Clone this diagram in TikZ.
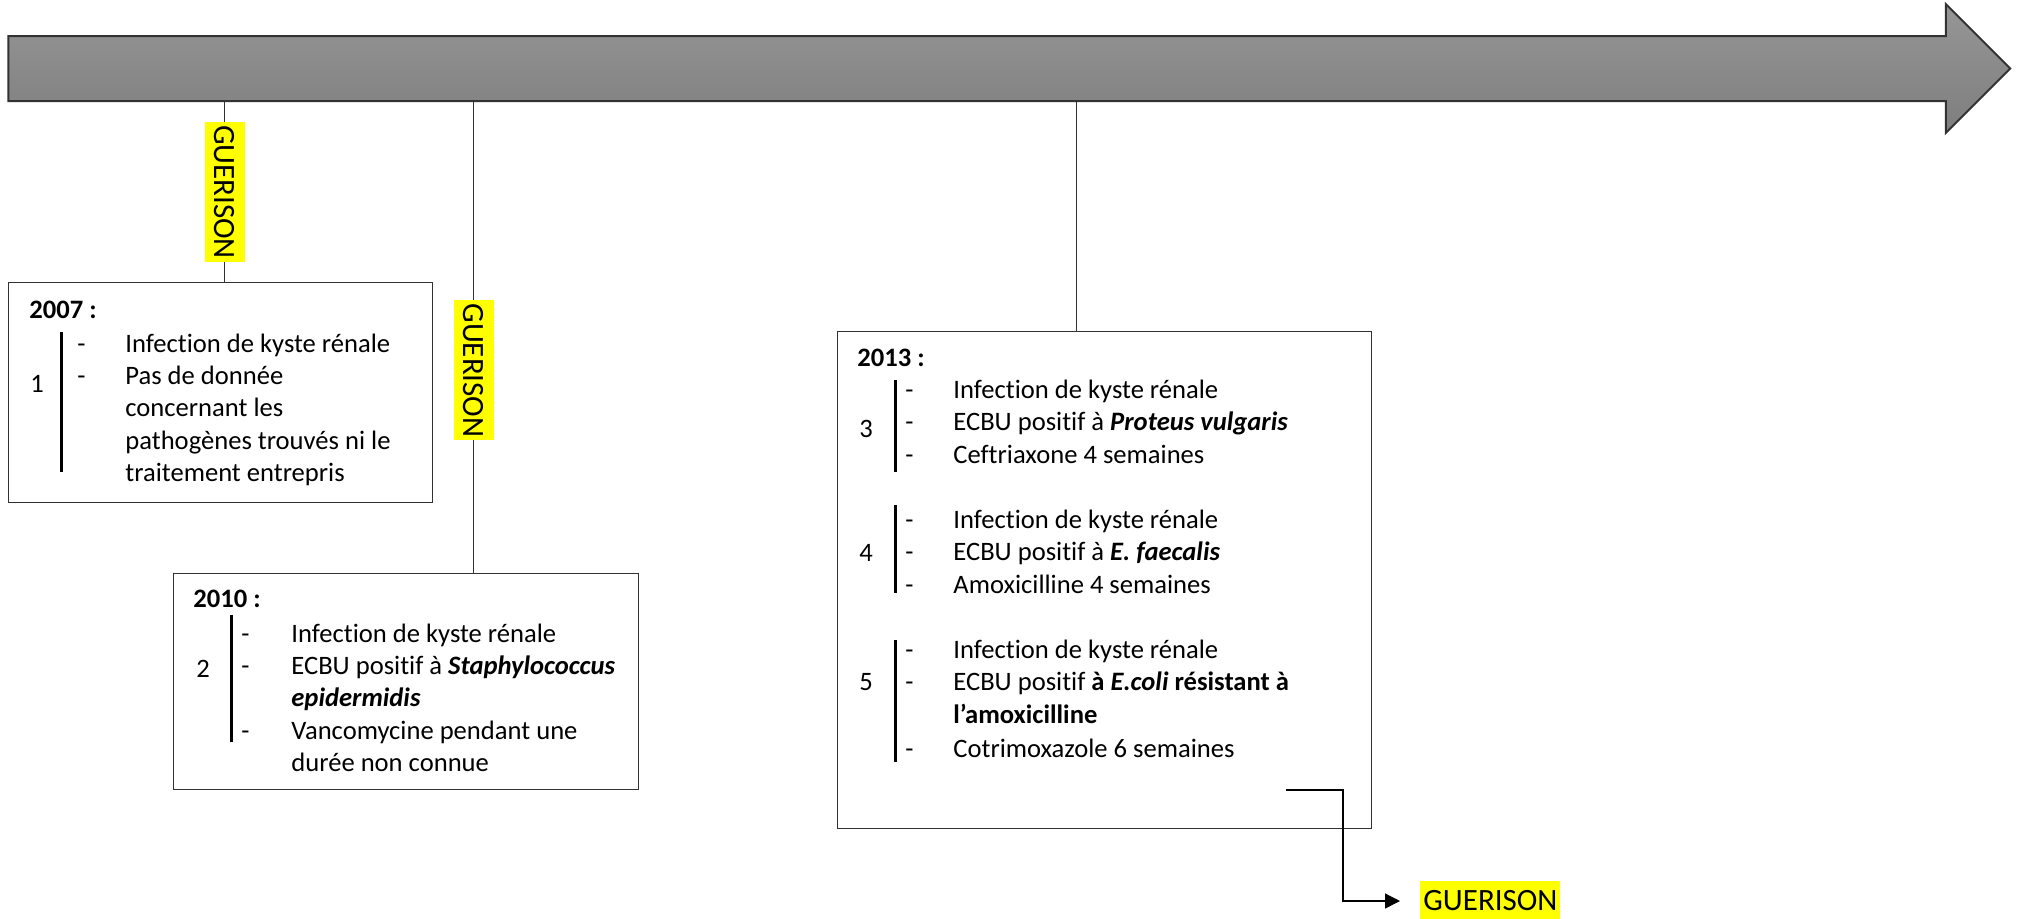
\documentclass[tikz,border=0pt]{standalone}
\usepackage{fontspec}
\setmainfont{Carlito}[Ligatures=NoCommon]
\usetikzlibrary{shapes.arrows,arrows.meta,positioning}

\definecolor{axistop}{RGB}{150,150,150}
\definecolor{axisbot}{RGB}{126,126,126}
\definecolor{edgegray}{RGB}{50,50,50}
\definecolor{marker}{RGB}{255,255,0}

\tikzset{
  yearbox/.style={draw=edgegray, line width=0.7pt, anchor=north west, inner sep=0pt},
  year/.style={font=\fontsize{13.3}{16}\selectfont\bfseries, anchor=base west, inner sep=0pt},
  txt/.style={font=\fontsize{13.3}{16}\selectfont, anchor=base west, inner sep=0pt},
  bar/.style={line width=1.5pt},
  link/.style={draw=edgegray, line width=0.65pt},
  heal/.style={fill=marker, font=\fontsize{15.5}{18}\selectfont, inner xsep=1.5pt, inner ysep=5pt},
}

\begin{document}
\begin{tikzpicture}[x=0.5pt,y=-0.5pt]
\useasboundingbox (0,0) rectangle (2019,918);

% time axis
\node[single arrow, draw=edgegray, line width=1pt, top color=axistop, bottom color=axisbot,
  minimum height=1001pt, inner xsep=0pt, inner ysep=15.75pt,
  single arrow head extend=16pt, single arrow tip angle=90] (axis) at (993,68.5) {};

% boxes
\node[yearbox, minimum width=212pt, minimum height=110pt] (y2007) at (8,282) {};
\node[yearbox, minimum width=232.5pt, minimum height=108pt] (y2010) at (173,573) {};
\node[yearbox, minimum width=267pt, minimum height=248.5pt] (y2013) at (837,331) {};

% links to the axis
\draw[link] ([xshift=2pt]y2007.north) -- ([xshift=2pt]y2007.north |- axis.south)
  node[heal, rotate=-90, midway] (heal1) {GUERISON};
\draw[link] ([xshift=33.75pt]y2010.north) -- ([xshift=33.75pt]y2010.north |- axis.south)
  node[heal, rotate=-90, pos=0.43] (heal2) {GUERISON};
\draw[link] ([xshift=-14pt]y2013.north) -- ([xshift=-14pt]y2013.north |- axis.south);

% 2007
\node[year] (h2007) at (29,318) {2007 :};
\draw[bar] (61,332) -- (61,472);
\node[txt] (n1) at (30,392) {1};
\foreach \y [count=\i] in {352,384}
  \node[txt] (d1-\i) at (77,\y) {-};
\foreach \y/\t [count=\i] in {352/Infection de kyste rénale, 384/Pas de donnée,
    416/concernant les, 449/pathogènes trouvés ni le, 481/traitement entrepris}
  \node[txt] (l1-\i) at (125,\y) {\t};

% 2010
\node[year] (h2010) at (193,607) {2010 :};
\draw[bar] (231,615) -- (231,742);
\node[txt] (n2) at (196,677) {2};
\foreach \y [count=\i] in {642,674,739}
  \node[txt] (d2-\i) at (241,\y) {-};
\foreach \y/\t [count=\i] in {642/Infection de kyste rénale,
    674/ECBU positif à \textbf{\textit{Staphylococcus}}, 706/\textbf{\textit{epidermidis}},
    739/Vancomycine pendant une, 771/durée non connue}
  \node[txt] (l2-\i) at (291,\y) {\t};

% 2013
\node[year] (h2013) at (857,366) {2013 :};
\draw[bar] (895,380) -- (895,472);
\draw[bar] (895,505) -- (895,593);
\draw[bar] (895,640) -- (895,762);
\foreach \y/\n in {437/3, 561/4, 690/5}
  \node[txt] (n\n) at (859,\y) {\n};
\foreach \y [count=\i] in {398,430,463,528,560,593,658,690,757}
  \node[txt] (d3-\i) at (905,\y) {-};
\foreach \y/\t [count=\i] in {398/Infection de kyste rénale,
    430/ECBU positif à \textbf{\textit{Proteus vulgaris}}, 463/Ceftriaxone 4 semaines,
    528/Infection de kyste rénale, 560/ECBU positif à \textbf{\textit{E. faecalis}},
    593/Amoxicilline 4 semaines, 658/Infection de kyste rénale,
    690/ECBU positif \textbf{à \textit{E.coli} résistant à}, 723/\textbf{l’amoxicilline},
    757/Cotrimoxazole 6 semaines}
  \node[txt] (l3-\i) at (953,\y) {\t};

% outcome
\coordinate (fork) at (1286,790);
\node[heal, anchor=west] (heal3) at (1420,901) {GUERISON};
\draw[-{Triangle[length=7.5pt,width=7.5pt]}, line width=0.65pt]
  (fork) -- ++(57,0) |- ([xshift=-10pt]heal3.west);
\end{tikzpicture}
\end{document}
